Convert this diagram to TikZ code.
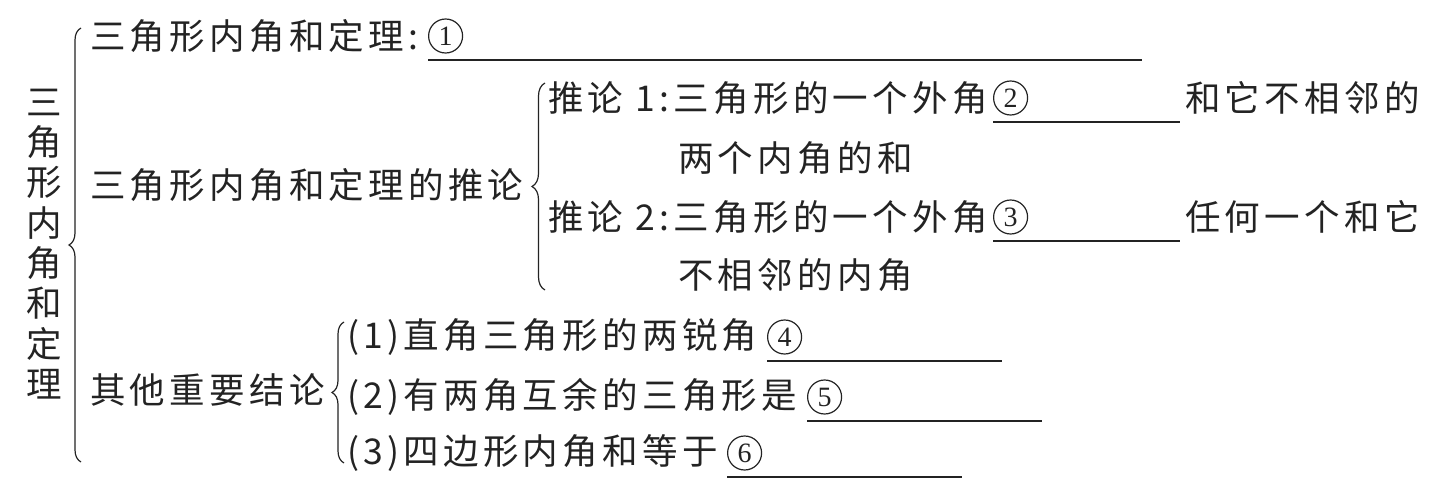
\documentclass[tikz,border=0pt]{standalone}
\usepackage{fontspec}
\setmainfont{Noto Sans CJK SC}[LetterSpace=12]
\newfontfamily\digitfont{Liberation Serif}
\usetikzlibrary{decorations.pathreplacing}
\definecolor{inkgray}{RGB}{35,35,35}

\begin{document}
\begin{tikzpicture}[x=1pt,y=-1pt,every node/.style={inner sep=0pt,text=inkgray}]
  \tikzstyle{txt}=[anchor=west,font=\fontsize{35.5}{40}\selectfont]
  \tikzstyle{blank}=[anchor=west,minimum height=48pt]
  \tikzstyle{circnum}=[anchor=west,circle,draw=inkgray,line width=1.2pt,
    minimum size=34pt,font=\digitfont\fontsize{28}{28}\selectfont]
  \tikzstyle{ul}=[inkgray,line width=1.6pt]
  \tikzstyle{brc}=[inkgray,line width=1.2pt,decorate,decoration={brace,amplitude=12pt}]
  \useasboundingbox (0,0) rectangle (1445,494);

  % -- title, set vertically --
  \node[font=\fontsize{35.5}{40.3}\selectfont,align=center] (title) at (44,244)
    {三\\角\\形\\内\\角\\和\\定\\理};
  \coordinate (mainTop) at (81,28);
  \coordinate (mainBot) at (81,462);
  \draw[brc] (mainBot) -- (mainTop);

  % -- row 1: the theorem --
  \node[txt] (thm) at (90,36) {三角形内角和定理:};
  \node[blank,minimum width=714pt] (b1) at (428,36) {};
  \node[circnum] (n1) at (b1.west) {1};
  \draw[ul] (b1.south west) -- (b1.south east);

  % -- row 2: corollaries --
  \node[txt] (cor) at (90,185) {三角形内角和定理的推论};
  \coordinate (corTop) at (545,83);
  \coordinate (corBot) at (545,290);
  \draw[brc,decoration={amplitude=13pt}] (corBot) -- (corTop);

  \node[txt] (cor1) at (548,98) {推论 1:三角形的一个外角};
  \node[blank,minimum width=187pt] (b2) at (993,98) {};
  \node[circnum] (n2) at (b2.west) {2};
  \draw[ul] (b2.south west) -- (b2.south east);
  \node[txt] (cor1r) at (1185,98) {和它不相邻的};
  \node[txt] (cor1b) at (678,158) {两个内角的和};

  \node[txt] (cor2) at (548,217) {推论 2:三角形的一个外角};
  \node[blank,minimum width=187pt] (b3) at (993,217) {};
  \node[circnum] (n3) at (b3.west) {3};
  \draw[ul] (b3.south west) -- (b3.south east);
  \node[txt] (cor2r) at (1185,217) {任何一个和它};
  \node[txt] (cor2b) at (678,275) {不相邻的内角};

  % -- row 3: other results --
  \node[txt] (oth) at (90,390) {其他重要结论};
  \coordinate (othTop) at (344,322);
  \coordinate (othBot) at (344,463);
  \draw[brc] (othBot) -- (othTop);

  \node[txt] (res1) at (347,337) {(1)直角三角形的两锐角};
  \node[blank,minimum width=235pt] (b4) at (767,337) {};
  \node[circnum] (n4) at (b4.west) {4};
  \draw[ul] (b4.south west) -- (b4.south east);

  \node[txt] (res2) at (347,397) {(2)有两角互余的三角形是};
  \node[blank,minimum width=235pt] (b5) at (807,397) {};
  \node[circnum] (n5) at (b5.west) {5};
  \draw[ul] (b5.south west) -- (b5.south east);

  \node[txt] (res3) at (347,453) {(3)四边形内角和等于};
  \node[blank,minimum width=235pt] (b6) at (727,453) {};
  \node[circnum] (n6) at (b6.west) {6};
  \draw[ul] (b6.south west) -- (b6.south east);
\end{tikzpicture}
\end{document}
